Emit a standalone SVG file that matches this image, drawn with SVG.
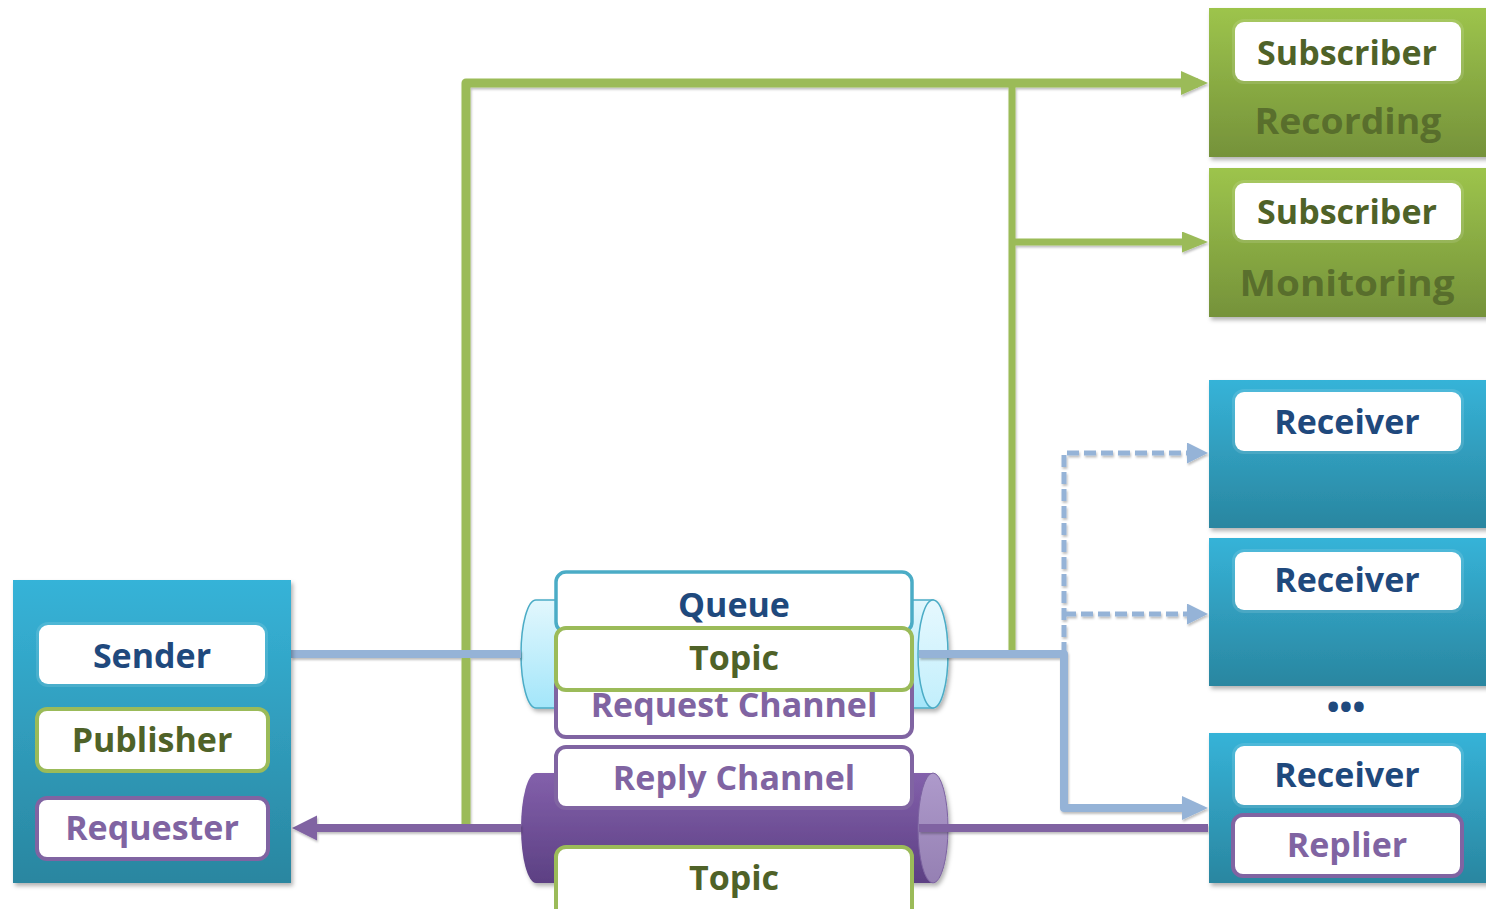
<svg xmlns="http://www.w3.org/2000/svg" width="1486" height="909" viewBox="0 0 1486 909">
  <defs>
    <linearGradient id="gBlue" x1="0" y1="0" x2="0" y2="1">
      <stop offset="0" stop-color="#36b3d8"/>
      <stop offset="1" stop-color="#2a86a0"/>
    </linearGradient>
    <linearGradient id="gGreen" x1="0" y1="0" x2="0" y2="1">
      <stop offset="0" stop-color="#9dc44c"/>
      <stop offset="1" stop-color="#75923a"/>
    </linearGradient>
    <linearGradient id="gPipeLight" x1="0" y1="0" x2="0" y2="1">
      <stop offset="0" stop-color="#e2f7fd"/>
      <stop offset="1" stop-color="#a3e6fa"/>
    </linearGradient>
    <linearGradient id="gPipeLightEnd" x1="0" y1="0" x2="0" y2="1">
      <stop offset="0" stop-color="#e6f8fe"/>
      <stop offset="1" stop-color="#c2effc"/>
    </linearGradient>
    <linearGradient id="gPipeViolet" x1="0" y1="0" x2="0" y2="1">
      <stop offset="0" stop-color="#8360ab"/>
      <stop offset="1" stop-color="#5c4083"/>
    </linearGradient>
    <linearGradient id="gPipeVioletEnd" x1="0" y1="0" x2="0" y2="1">
      <stop offset="0" stop-color="#ae9acb"/>
      <stop offset="1" stop-color="#9580b3"/>
    </linearGradient>
    <filter id="shadow" x="-10%" y="-10%" width="125%" height="130%">
      <feDropShadow dx="2" dy="3" stdDeviation="2" flood-color="#000" flood-opacity="0.3"/>
    </filter>
    <filter id="lineShadow" x="-5%" y="-5%" width="110%" height="110%">
      <feDropShadow dx="1" dy="2" stdDeviation="1.2" flood-color="#000" flood-opacity="0.25"/>
    </filter>
    <marker id="arrGreenL" markerUnits="userSpaceOnUse" markerWidth="28" markerHeight="26" refX="17" refY="12" orient="auto">
      <path d="M0,0 L27,12 L0,24 z" fill="#9bbb59"/>
    </marker>
    <marker id="arrGreenS" markerUnits="userSpaceOnUse" markerWidth="28" markerHeight="22" refX="16" refY="10.5" orient="auto">
      <path d="M0,0 L26,10.5 L0,21 z" fill="#9bbb59"/>
    </marker>
    <marker id="arrBlueL" markerUnits="userSpaceOnUse" markerWidth="28" markerHeight="26" refX="16" refY="12" orient="auto">
      <path d="M0,0 L26,12 L0,24 z" fill="#95b3d7"/>
    </marker>
    <marker id="arrBlueS" markerUnits="userSpaceOnUse" markerWidth="22" markerHeight="22" refX="12" refY="10.5" orient="auto">
      <path d="M0,0 L21,10.5 L0,21 z" fill="#95b3d7"/>
    </marker>
    <marker id="arrViolet" markerUnits="userSpaceOnUse" markerWidth="27" markerHeight="27" refX="15" refY="12.5" orient="auto">
      <path d="M0,0 L25,12.5 L0,25 z" fill="#8064a2"/>
    </marker>
    <style>
      .t { font-family: "Open Sans", "Liberation Sans", sans-serif; font-weight: 700; font-size: 34px; text-anchor: middle; }
      .big { font-size: 36px; }
      .navy { fill: #1f497d; }
      .olive { fill: #4f6228; }
      .violet { fill: #8064a2; }
      .faint { fill: #4f6228; fill-opacity: 0.8; }
      .card { fill: #ffffff; }
      .cardB { fill: #ffffff; stroke: #4bacc6; stroke-width: 3.5; }
      .cardG { fill: #ffffff; stroke: #9bbb59; stroke-width: 4; }
      .cardV { fill: #ffffff; stroke: #8064a2; stroke-width: 4; }
      .halo { fill: none; stroke: #ffffff; stroke-opacity: 0.12; stroke-width: 6; }
      .blueBox { fill: url(#gBlue); filter: url(#shadow); }
      .greenBox { fill: url(#gGreen); filter: url(#shadow); }
      .ln { fill: none; stroke-linejoin: round; }
      .green { stroke: #9bbb59; }
      .blue { stroke: #95b3d7; }
      .vio { stroke: #8064a2; }
    </style>
  </defs>

  <rect width="1486" height="909" fill="#ffffff"/>

  <!-- Pipes (cylinders) -->
  <g id="request-pipe" filter="url(#shadow)">
    <path d="M933,600 H536 A15,54 0 0 0 536,708 H933 Z" fill="url(#gPipeLight)" stroke="#4bacc6" stroke-width="1.5"/>
    <ellipse cx="933" cy="654" rx="15" ry="54" fill="url(#gPipeLightEnd)" stroke="#4bacc6" stroke-width="1.5"/>
  </g>
  <g id="reply-pipe" filter="url(#shadow)">
    <path d="M933,773 H536 A15,55 0 0 0 536,883 H933 Z" fill="url(#gPipeViolet)"/>
    <ellipse cx="933" cy="828" rx="15" ry="55" fill="url(#gPipeVioletEnd)" stroke="#7b62a0" stroke-width="1"/>
  </g>

  <!-- Connectors -->
  <g id="connectors" filter="url(#lineShadow)">
    <path class="ln green" stroke-width="9" d="M466,828 V83 H1198" marker-end="url(#arrGreenL)"/>
    <path class="ln green" stroke-width="7" d="M1012,83 V654"/>
    <path class="ln green" stroke-width="7" d="M1012,242 H1198" marker-end="url(#arrGreenS)"/>
    <path class="ln blue" stroke-width="8" d="M291,654 H521"/>
    <path class="ln blue" stroke-width="5" stroke-dasharray="12 5" d="M1064,654 V453 H1199" marker-end="url(#arrBlueS)"/>
    <path class="ln blue" stroke-width="5" stroke-dasharray="12 5" d="M1064,614 H1199" marker-end="url(#arrBlueS)"/>
    <path class="ln blue" stroke-width="8" d="M919,654 H1064 V808 H1198" marker-end="url(#arrBlueL)"/>
    <path class="ln vio" stroke-width="8" d="M1208,828 H919"/>
    <path class="ln vio" stroke-width="8" d="M521,828 H302" marker-end="url(#arrViolet)"/>
  </g>

  <!-- Channel labels on the pipes -->
  <g id="queue">
    <rect class="cardB" x="556" y="572" width="356" height="60" rx="10"/>
    <text class="t navy" x="734" y="617">Queue</text>
  </g>
  <g id="request-channel">
    <rect class="cardV" x="556" y="676" width="356" height="61" rx="10"/>
    <text class="t violet" x="734" y="717">Request Channel</text>
  </g>
  <g id="topic-request">
    <rect class="cardG" x="556" y="628" width="356" height="62" rx="10"/>
    <text class="t olive" x="734" y="670">Topic</text>
  </g>
  <g id="reply-channel">
    <rect class="cardV" x="556" y="747" width="356" height="61" rx="10"/>
    <text class="t violet" x="734" y="790">Reply Channel</text>
  </g>
  <g id="topic-reply">
    <rect class="cardG" x="556" y="847" width="356" height="75" rx="10"/>
    <text class="t olive" x="734" y="890">Topic</text>
  </g>

  <!-- Sending application -->
  <g id="sender-app">
    <rect class="blueBox" x="13" y="580" width="278" height="303"/>
    <rect class="halo" x="39" y="625" width="226" height="59" rx="9"/>
    <rect class="card" x="39" y="625" width="226" height="59" rx="9"/>
    <text class="t navy" x="152" y="668">Sender</text>
    <rect class="cardG" x="37" y="709" width="231" height="62" rx="10"/>
    <text class="t olive" x="152" y="752">Publisher</text>
    <rect class="cardV" x="37" y="798" width="231" height="61" rx="10"/>
    <text class="t violet" x="152" y="840">Requester</text>
  </g>

  <!-- Subscribers -->
  <g id="subscriber-recording">
    <rect class="greenBox" x="1209" y="8" width="290" height="149"/>
    <rect class="halo" x="1235" y="22" width="226" height="59" rx="9"/>
    <rect class="card" x="1235" y="22" width="226" height="59" rx="9"/>
    <text class="t olive" x="1347" y="65">Subscriber</text>
    <text class="t big faint" x="1348" y="134" textLength="187" lengthAdjust="spacingAndGlyphs">Recording</text>
  </g>
  <g id="subscriber-monitoring">
    <rect class="greenBox" x="1209" y="168" width="290" height="149"/>
    <rect class="halo" x="1235" y="183" width="226" height="57" rx="9"/>
    <rect class="card" x="1235" y="183" width="226" height="57" rx="9"/>
    <text class="t olive" x="1347" y="224">Subscriber</text>
    <text class="t big faint" x="1347" y="296" textLength="215" lengthAdjust="spacingAndGlyphs">Monitoring</text>
  </g>

  <!-- Receivers -->
  <g id="receiver-1">
    <rect class="blueBox" x="1209" y="380" width="290" height="148"/>
    <rect class="halo" x="1235" y="392" width="226" height="59" rx="9"/>
    <rect class="card" x="1235" y="392" width="226" height="59" rx="9"/>
    <text class="t navy" x="1347" y="434">Receiver</text>
  </g>
  <g id="receiver-2">
    <rect class="blueBox" x="1209" y="538" width="290" height="148"/>
    <rect class="halo" x="1235" y="552" width="226" height="58" rx="9"/>
    <rect class="card" x="1235" y="552" width="226" height="58" rx="9"/>
    <text class="t navy" x="1347" y="592">Receiver</text>
  </g>
  <g id="more-receivers">
    <text class="t navy" x="1346" y="719">•••</text>
  </g>
  <g id="receiver-replier">
    <rect class="blueBox" x="1209" y="733" width="290" height="150"/>
    <rect class="halo" x="1235" y="746" width="226" height="59" rx="9"/>
    <rect class="card" x="1235" y="746" width="226" height="59" rx="9"/>
    <text class="t navy" x="1347" y="787">Receiver</text>
    <rect class="cardV" x="1233" y="815" width="229" height="61" rx="10"/>
    <text class="t violet" x="1347" y="857">Replier</text>
  </g>
</svg>
